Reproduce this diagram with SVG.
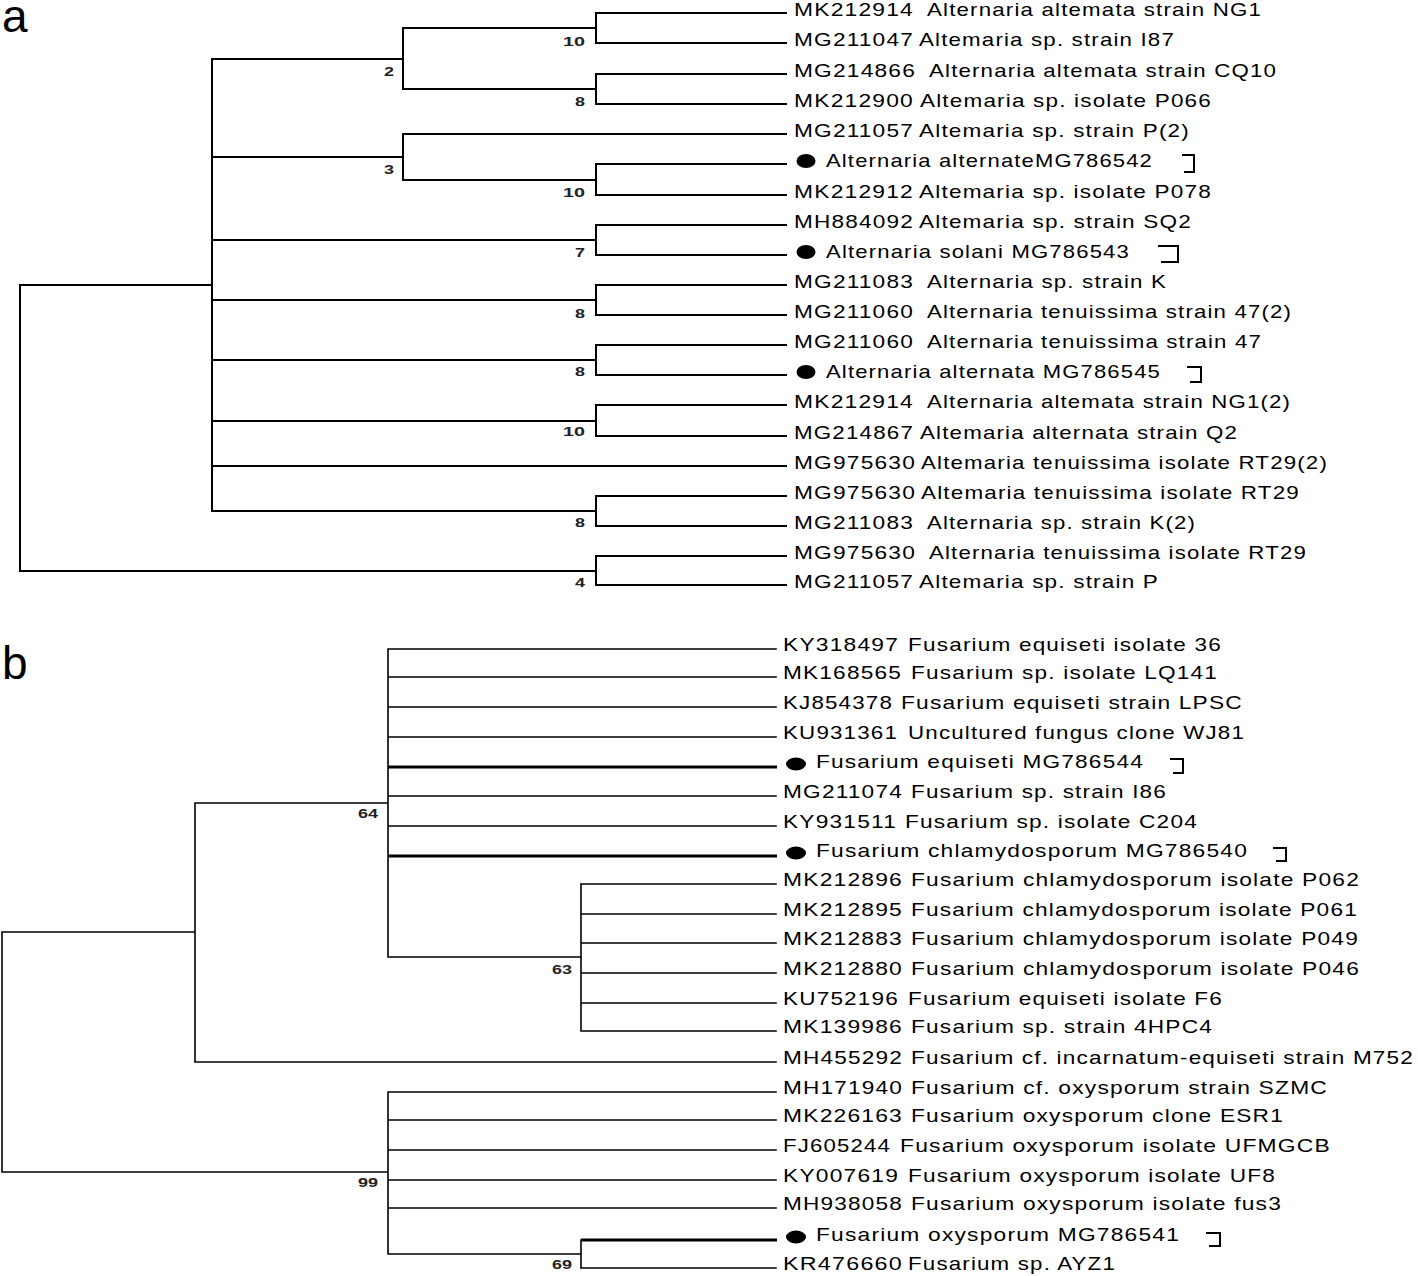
<svg xmlns="http://www.w3.org/2000/svg" width="1418" height="1276" viewBox="0 0 1418 1276">
<style>
.br{stroke:#000;stroke-width:2;fill:none;stroke-linecap:square}
.bb{stroke:#000;stroke-width:1.6;fill:none;stroke-linecap:square}
.tk{stroke:#000;stroke-width:3.2;fill:none}
.lf{font-family:"Liberation Sans",Arial,sans-serif;font-size:19px;letter-spacing:1px;fill:#000}
.bs{font-family:"Liberation Sans",Arial,sans-serif;font-size:12px;font-weight:bold;fill:#222;text-anchor:end}
.dot{fill:#000}
.mk{stroke:#000;stroke-width:2;fill:none}
.pl{font-family:"Liberation Sans",Arial,sans-serif;font-size:46px;fill:#000}
</style>
<rect width="1418" height="1276" fill="#fff"/>
<text class="pl" x="2" y="32">a</text>
<text class="pl" x="2" y="679">b</text>
<g id="connectors">
<path class="br" d="M20 285V571M20 285H212M20 571H596M212 59V511M212 59H403M212 157H403M212 240H596M212 300H596M212 360H596M212 421H596M212 466H786M212 511H596M403 28V89M403 28H596M403 89H596M403 134V180M403 134H786M403 180H596M596 13V43M596 13H786M596 43H786M596 74V104M596 74H786M596 104H786M596 164V195M596 164H786M596 195H786M596 225V255M596 225H786M596 255H786M596 285V315M596 285H786M596 315H786M596 345V375M596 345H786M596 375H786M596 405V436M596 405H786M596 436H786M596 496V526M596 496H786M596 526H786M596 556V585M596 556H786M596 585H786"/>
<path class="bb" d="M2 932V1172M2 932H195M2 1172H388M195 803V1062M195 803H388M195 1062H776M388 649V957M388 649H776M388 677H776M388 707H776M388 737H776M388 796H776M388 826H776M388 957H581M581 884V1031M581 884H776M581 914H776M581 943H776M581 973H776M581 1003H776M581 1031H776M388 1092V1254M388 1092H776M388 1120H776M388 1150H776M388 1180H776M388 1208H776M388 1254H581M581 1240V1268M581 1268H776"/>
<path class="tk" d="M388 767H777M388 856H777M581 1240H777"/>
</g>
<g id="a-bootstrap">
<text class="bs" x="585" y="46" textLength="22" lengthAdjust="spacingAndGlyphs">10</text>
<text class="bs" x="394" y="76" textLength="10" lengthAdjust="spacingAndGlyphs">2</text>
<text class="bs" x="585" y="106" textLength="10" lengthAdjust="spacingAndGlyphs">8</text>
<text class="bs" x="394" y="174" textLength="10" lengthAdjust="spacingAndGlyphs">3</text>
<text class="bs" x="585" y="197" textLength="22" lengthAdjust="spacingAndGlyphs">10</text>
<text class="bs" x="585" y="257" textLength="10" lengthAdjust="spacingAndGlyphs">7</text>
<text class="bs" x="585" y="318" textLength="10" lengthAdjust="spacingAndGlyphs">8</text>
<text class="bs" x="585" y="376" textLength="10" lengthAdjust="spacingAndGlyphs">8</text>
<text class="bs" x="585" y="436" textLength="22" lengthAdjust="spacingAndGlyphs">10</text>
<text class="bs" x="585" y="527" textLength="10" lengthAdjust="spacingAndGlyphs">8</text>
<text class="bs" x="585" y="587" textLength="10" lengthAdjust="spacingAndGlyphs">4</text>
</g>
<g id="b-bootstrap">
<text class="bs" x="378" y="818" textLength="20" lengthAdjust="spacingAndGlyphs">64</text>
<text class="bs" x="572" y="974" textLength="20" lengthAdjust="spacingAndGlyphs">63</text>
<text class="bs" x="378" y="1187" textLength="20" lengthAdjust="spacingAndGlyphs">99</text>
<text class="bs" x="572" y="1269" textLength="20" lengthAdjust="spacingAndGlyphs">69</text>
</g>
<g id="a-leaf-0"><text class="lf" x="794" y="15.5" textLength="120" lengthAdjust="spacingAndGlyphs">MK212914</text><text class="lf" x="927" y="15.5" textLength="335" lengthAdjust="spacingAndGlyphs">Alternaria altemata strain NG1</text></g>
<g id="a-leaf-1"><text class="lf" x="794" y="45.5" textLength="120" lengthAdjust="spacingAndGlyphs">MG211047</text><text class="lf" x="919" y="45.5" textLength="256" lengthAdjust="spacingAndGlyphs">Altemaria sp. strain I87</text></g>
<g id="a-leaf-2"><text class="lf" x="794" y="76.5" textLength="122" lengthAdjust="spacingAndGlyphs">MG214866</text><text class="lf" x="929" y="76.5" textLength="348" lengthAdjust="spacingAndGlyphs">Alternaria altemata strain CQ10</text></g>
<g id="a-leaf-3"><text class="lf" x="794" y="106.5" textLength="120" lengthAdjust="spacingAndGlyphs">MK212900</text><text class="lf" x="920" y="106.5" textLength="292" lengthAdjust="spacingAndGlyphs">Altemaria sp. isolate P066</text></g>
<g id="a-leaf-4"><text class="lf" x="794" y="136.5" textLength="120" lengthAdjust="spacingAndGlyphs">MG211057</text><text class="lf" x="919" y="136.5" textLength="271" lengthAdjust="spacingAndGlyphs">Altemaria sp. strain P(2)</text></g>
<g id="a-leaf-5"><ellipse class="dot" cx="806" cy="161" rx="9.5" ry="7"/><text class="lf" x="826" y="166.5" textLength="327" lengthAdjust="spacingAndGlyphs">Alternaria alternateMG786542</text><path class="mk" d="M1182 155H1194V172H1184"/></g>
<g id="a-leaf-6"><text class="lf" x="794" y="197.5" textLength="120" lengthAdjust="spacingAndGlyphs">MK212912</text><text class="lf" x="919" y="197.5" textLength="293" lengthAdjust="spacingAndGlyphs">Altemaria sp. isolate P078</text></g>
<g id="a-leaf-7"><text class="lf" x="794" y="227.5" textLength="120" lengthAdjust="spacingAndGlyphs">MH884092</text><text class="lf" x="919" y="227.5" textLength="273" lengthAdjust="spacingAndGlyphs">Altemaria sp. strain SQ2</text></g>
<g id="a-leaf-8"><ellipse class="dot" cx="806" cy="252" rx="9.5" ry="7"/><text class="lf" x="826" y="257.5" textLength="304" lengthAdjust="spacingAndGlyphs">Alternaria solani MG786543</text><path class="mk" d="M1158 246H1178V262H1161"/></g>
<g id="a-leaf-9"><text class="lf" x="794" y="287.5" textLength="120" lengthAdjust="spacingAndGlyphs">MG211083</text><text class="lf" x="927" y="287.5" textLength="240" lengthAdjust="spacingAndGlyphs">Alternaria sp. strain K</text></g>
<g id="a-leaf-10"><text class="lf" x="794" y="317.5" textLength="120" lengthAdjust="spacingAndGlyphs">MG211060</text><text class="lf" x="927" y="317.5" textLength="365" lengthAdjust="spacingAndGlyphs">Alternaria tenuissima strain 47(2)</text></g>
<g id="a-leaf-11"><text class="lf" x="794" y="347.5" textLength="120" lengthAdjust="spacingAndGlyphs">MG211060</text><text class="lf" x="927" y="347.5" textLength="335" lengthAdjust="spacingAndGlyphs">Alternaria tenuissima strain 47</text></g>
<g id="a-leaf-12"><ellipse class="dot" cx="806" cy="372" rx="9.5" ry="7"/><text class="lf" x="826" y="377.5" textLength="335" lengthAdjust="spacingAndGlyphs">Alternaria alternata MG786545</text><path class="mk" d="M1187 367H1201V382H1190"/></g>
<g id="a-leaf-13"><text class="lf" x="794" y="407.5" textLength="120" lengthAdjust="spacingAndGlyphs">MK212914</text><text class="lf" x="927" y="407.5" textLength="364" lengthAdjust="spacingAndGlyphs">Alternaria altemata strain NG1(2)</text></g>
<g id="a-leaf-14"><text class="lf" x="794" y="438.5" textLength="120" lengthAdjust="spacingAndGlyphs">MG214867</text><text class="lf" x="920" y="438.5" textLength="318" lengthAdjust="spacingAndGlyphs">Altemaria alternata strain Q2</text></g>
<g id="a-leaf-15"><text class="lf" x="794" y="468.5" textLength="122" lengthAdjust="spacingAndGlyphs">MG975630</text><text class="lf" x="921" y="468.5" textLength="407" lengthAdjust="spacingAndGlyphs">Altemaria tenuissima isolate RT29(2)</text></g>
<g id="a-leaf-16"><text class="lf" x="794" y="498.5" textLength="122" lengthAdjust="spacingAndGlyphs">MG975630</text><text class="lf" x="921" y="498.5" textLength="379" lengthAdjust="spacingAndGlyphs">Altemaria tenuissima isolate RT29</text></g>
<g id="a-leaf-17"><text class="lf" x="794" y="528.5" textLength="120" lengthAdjust="spacingAndGlyphs">MG211083</text><text class="lf" x="927" y="528.5" textLength="269" lengthAdjust="spacingAndGlyphs">Alternaria sp. strain K(2)</text></g>
<g id="a-leaf-18"><text class="lf" x="794" y="558.5" textLength="122" lengthAdjust="spacingAndGlyphs">MG975630</text><text class="lf" x="929" y="558.5" textLength="378" lengthAdjust="spacingAndGlyphs">Alternaria tenuissima isolate RT29</text></g>
<g id="a-leaf-19"><text class="lf" x="794" y="587.5" textLength="120" lengthAdjust="spacingAndGlyphs">MG211057</text><text class="lf" x="919" y="587.5" textLength="240" lengthAdjust="spacingAndGlyphs">Altemaria sp. strain P</text></g>
<g id="b-leaf-0"><text class="lf" x="783" y="651" textLength="116" lengthAdjust="spacingAndGlyphs">KY318497</text><text class="lf" x="908" y="651" textLength="314" lengthAdjust="spacingAndGlyphs">Fusarium equiseti isolate 36</text></g>
<g id="b-leaf-1"><text class="lf" x="783" y="679" textLength="119" lengthAdjust="spacingAndGlyphs">MK168565</text><text class="lf" x="911" y="679" textLength="307" lengthAdjust="spacingAndGlyphs">Fusarium sp. isolate LQ141</text></g>
<g id="b-leaf-2"><text class="lf" x="783" y="709" textLength="110" lengthAdjust="spacingAndGlyphs">KJ854378</text><text class="lf" x="901" y="709" textLength="342" lengthAdjust="spacingAndGlyphs">Fusarium equiseti strain LPSC</text></g>
<g id="b-leaf-3"><text class="lf" x="783" y="739" textLength="115" lengthAdjust="spacingAndGlyphs">KU931361</text><text class="lf" x="908" y="739" textLength="337" lengthAdjust="spacingAndGlyphs">Uncultured fungus clone WJ81</text></g>
<g id="b-leaf-4"><ellipse class="dot" cx="796" cy="764" rx="10" ry="6.5"/><text class="lf" x="816" y="768" textLength="328" lengthAdjust="spacingAndGlyphs">Fusarium equiseti MG786544</text><path class="mk" d="M1170 759H1183V773H1173"/></g>
<g id="b-leaf-5"><text class="lf" x="783" y="798" textLength="120" lengthAdjust="spacingAndGlyphs">MG211074</text><text class="lf" x="911" y="798" textLength="256" lengthAdjust="spacingAndGlyphs">Fusarium sp. strain I86</text></g>
<g id="b-leaf-6"><text class="lf" x="783" y="828" textLength="114" lengthAdjust="spacingAndGlyphs">KY931511</text><text class="lf" x="905" y="828" textLength="293" lengthAdjust="spacingAndGlyphs">Fusarium sp. isolate C204</text></g>
<g id="b-leaf-7"><ellipse class="dot" cx="796" cy="853" rx="10" ry="6.5"/><text class="lf" x="816" y="857" textLength="432" lengthAdjust="spacingAndGlyphs">Fusarium chlamydosporum MG786540</text><path class="mk" d="M1273 848H1286V861H1276"/></g>
<g id="b-leaf-8"><text class="lf" x="783" y="886" textLength="120" lengthAdjust="spacingAndGlyphs">MK212896</text><text class="lf" x="911" y="886" textLength="449" lengthAdjust="spacingAndGlyphs">Fusarium chlamydosporum isolate P062</text></g>
<g id="b-leaf-9"><text class="lf" x="783" y="916" textLength="120" lengthAdjust="spacingAndGlyphs">MK212895</text><text class="lf" x="911" y="916" textLength="447" lengthAdjust="spacingAndGlyphs">Fusarium chlamydosporum isolate P061</text></g>
<g id="b-leaf-10"><text class="lf" x="783" y="945" textLength="120" lengthAdjust="spacingAndGlyphs">MK212883</text><text class="lf" x="911" y="945" textLength="448" lengthAdjust="spacingAndGlyphs">Fusarium chlamydosporum isolate P049</text></g>
<g id="b-leaf-11"><text class="lf" x="783" y="975" textLength="120" lengthAdjust="spacingAndGlyphs">MK212880</text><text class="lf" x="911" y="975" textLength="449" lengthAdjust="spacingAndGlyphs">Fusarium chlamydosporum isolate P046</text></g>
<g id="b-leaf-12"><text class="lf" x="783" y="1005" textLength="116" lengthAdjust="spacingAndGlyphs">KU752196</text><text class="lf" x="908" y="1005" textLength="315" lengthAdjust="spacingAndGlyphs">Fusarium equiseti isolate F6</text></g>
<g id="b-leaf-13"><text class="lf" x="783" y="1033" textLength="120" lengthAdjust="spacingAndGlyphs">MK139986</text><text class="lf" x="911" y="1033" textLength="302" lengthAdjust="spacingAndGlyphs">Fusarium sp. strain 4HPC4</text></g>
<g id="b-leaf-14"><text class="lf" x="783" y="1064" textLength="120" lengthAdjust="spacingAndGlyphs">MH455292</text><text class="lf" x="911" y="1064" textLength="503" lengthAdjust="spacingAndGlyphs">Fusarium cf. incarnatum-equiseti strain M752</text></g>
<g id="b-leaf-15"><text class="lf" x="783" y="1094" textLength="120" lengthAdjust="spacingAndGlyphs">MH171940</text><text class="lf" x="911" y="1094" textLength="417" lengthAdjust="spacingAndGlyphs">Fusarium cf. oxysporum strain SZMC</text></g>
<g id="b-leaf-16"><text class="lf" x="783" y="1122" textLength="120" lengthAdjust="spacingAndGlyphs">MK226163</text><text class="lf" x="911" y="1122" textLength="373" lengthAdjust="spacingAndGlyphs">Fusarium oxysporum clone ESR1</text></g>
<g id="b-leaf-17"><text class="lf" x="783" y="1152" textLength="108" lengthAdjust="spacingAndGlyphs">FJ605244</text><text class="lf" x="900" y="1152" textLength="431" lengthAdjust="spacingAndGlyphs">Fusarium oxysporum isolate UFMGCB</text></g>
<g id="b-leaf-18"><text class="lf" x="783" y="1182" textLength="116" lengthAdjust="spacingAndGlyphs">KY007619</text><text class="lf" x="908" y="1182" textLength="368" lengthAdjust="spacingAndGlyphs">Fusarium oxysporum isolate UF8</text></g>
<g id="b-leaf-19"><text class="lf" x="783" y="1210" textLength="120" lengthAdjust="spacingAndGlyphs">MH938058</text><text class="lf" x="911" y="1210" textLength="371" lengthAdjust="spacingAndGlyphs">Fusarium oxysporum isolate fus3</text></g>
<g id="b-leaf-20"><ellipse class="dot" cx="796" cy="1237" rx="10" ry="6.5"/><text class="lf" x="816" y="1241" textLength="364" lengthAdjust="spacingAndGlyphs">Fusarium oxysporum MG786541</text><path class="mk" d="M1206 1233H1220V1246H1209"/></g>
<g id="b-leaf-21"><text class="lf" x="783" y="1270" textLength="120" lengthAdjust="spacingAndGlyphs">KR476660</text><text class="lf" x="908" y="1270" textLength="208" lengthAdjust="spacingAndGlyphs">Fusarium sp. AYZ1</text></g>
</svg>
